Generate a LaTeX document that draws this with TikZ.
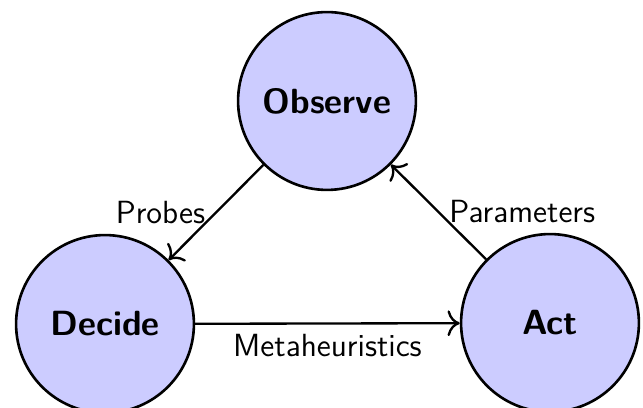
\documentclass[tikz,border=0pt]{standalone}
\usetikzlibrary{arrows.meta}
\begin{document}
\begin{tikzpicture}[x=0.343pt,y=-0.343pt,
  stage/.style={circle,draw=black,line width=0.9pt,fill=blue!20,minimum size=61pt,inner sep=0pt,font=\sffamily\bfseries\large},
  flow/.style={line width=0.8pt,-{To[scale=1.25]}},
  lbl/.style={font=\sffamily\fontsize{11}{13}\selectfont}]
\useasboundingbox (0,0) rectangle (643,408);
\node[stage] (obs) at (327,101) {Observe};
\node[stage] (dec) at (105,324) {Decide};
\node[stage] (act) at (550,323) {Act};
\draw[flow] (obs) -- node[lbl,left] {Probes} (dec);
\draw[flow] (act) -- node[lbl,right] {Parameters} (obs);
\draw[flow] (dec) -- node[lbl,below] {Metaheuristics} (act);
\end{tikzpicture}
\end{document}
